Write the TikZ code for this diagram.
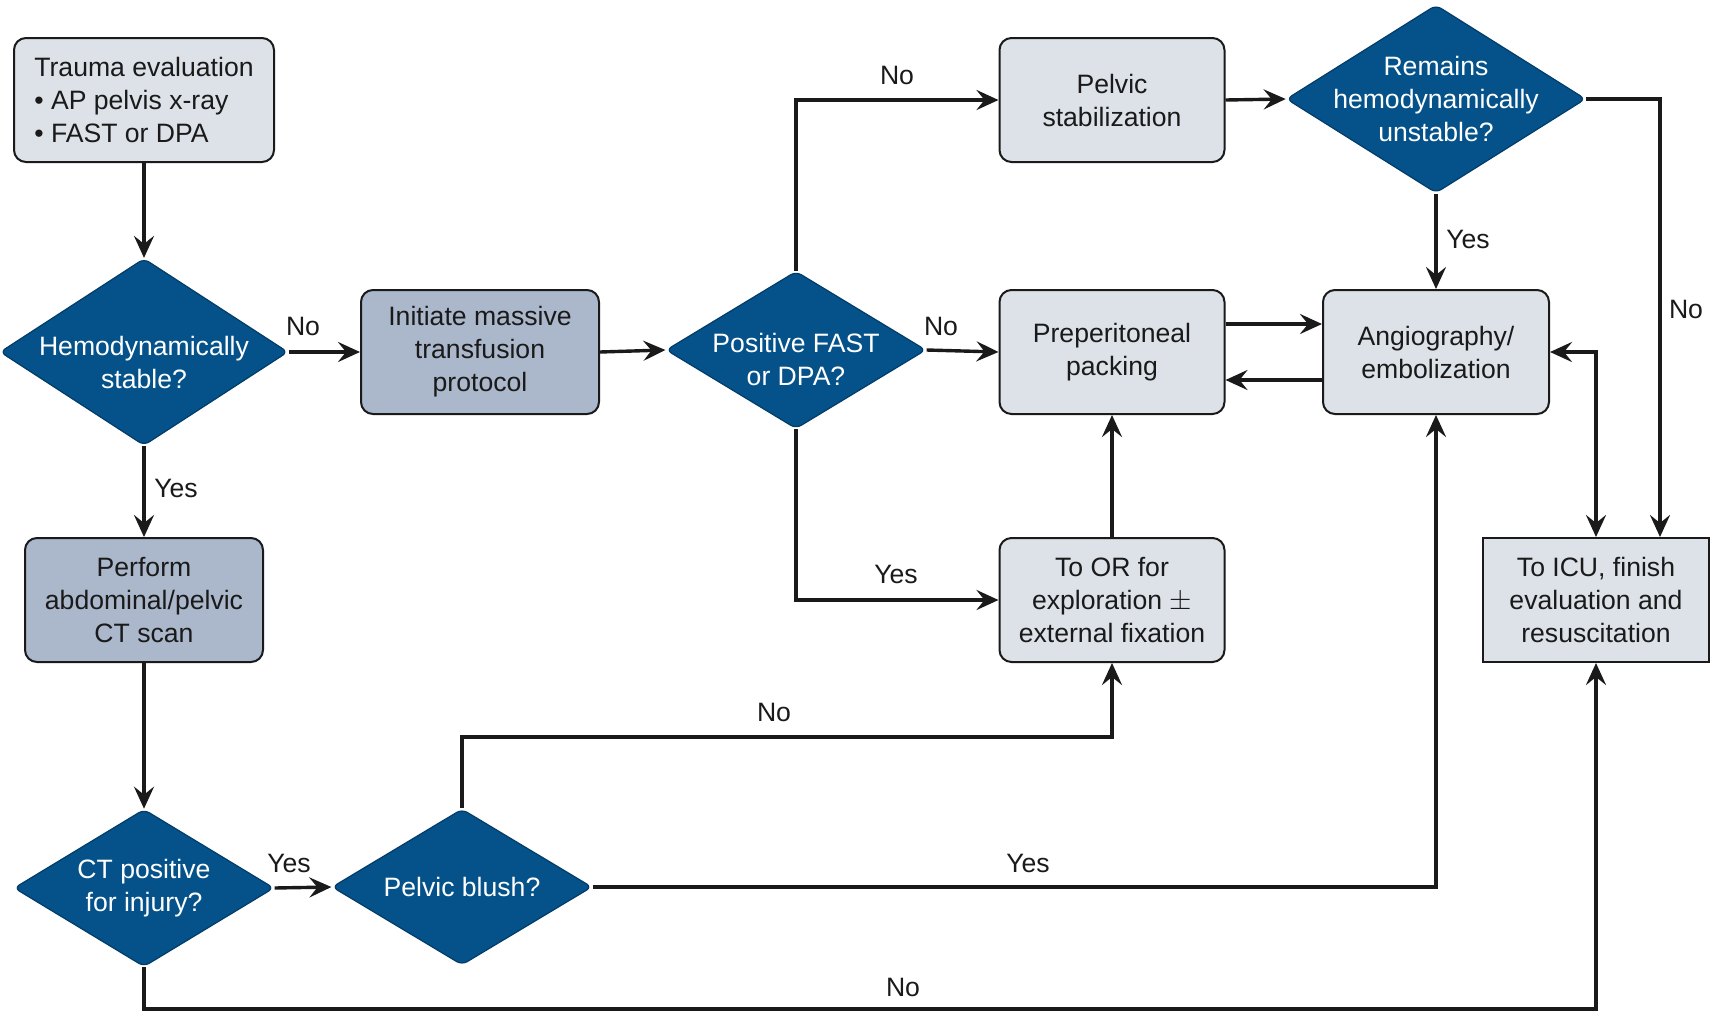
\documentclass[tikz,border=0pt]{standalone}
\usepackage{fontspec}
\setmainfont{Liberation Sans}
\usetikzlibrary{shapes.geometric,arrows.meta}
\definecolor{dblue}{RGB}{4,82,137}
\definecolor{dedge}{RGB}{2,60,105}
\definecolor{lbox}{RGB}{221,225,232}
\definecolor{dbox}{RGB}{171,183,202}
\definecolor{ink}{RGB}{26,26,26}
\tikzset{
  every node/.style={font=\fontsize{13.3}{16.5}\selectfont},
  box/.style={draw=ink, line width=1pt, rounded corners=6pt, fill=lbox, align=center, text=ink, inner sep=0pt, minimum height=62pt},
  dbx/.style={box, fill=dbox},
  dia/.style={diamond, draw=dedge, line width=0.6pt, fill=dblue, rounded corners=3pt, inner sep=0pt},
  dtext/.style={text=white, align=center, inner sep=0pt},
  conn/.style={draw=ink, line width=1.7pt, -{Stealth[length=11pt,width=10pt,inset=4pt]}},
  conn2/.style={draw=ink, line width=1.7pt, {Stealth[length=11pt,width=10pt,inset=4pt]}-{Stealth[length=11pt,width=10pt,inset=4pt]}},
  lbl/.style={text=ink, inner sep=0pt},
}
\begin{document}
\begin{tikzpicture}[x=0.5pt,y=-0.5pt]
\useasboundingbox (0,0) rectangle (1720,1034);
\fill[white] (0,0) rectangle (1720,1034);

% nodes
\node[box, minimum width=130pt, align=left] (tr) at (144,100) {Trauma evaluation\\\textbullet\ AP pelvis x-ray\\\textbullet\ FAST or DPA};
\node[dia, minimum width=144pt, minimum height=93.5pt, label={[dtext, yshift=-5pt]center:Hemodynamically\\stable?}] (hs) at (144,352) {};
\node[dbx, minimum width=119pt] (imt) at (480,352) {Initiate massive\\transfusion\\protocol};
\node[dia, minimum width=130pt, minimum height=78.7pt, label={[dtext, yshift=-4.5pt]center:Positive FAST\\or DPA?}] (fast) at (796,350) {};
\node[box, minimum width=112.5pt] (ps) at (1112,100) {Pelvic\\stabilization};
\node[dia, minimum width=149.7pt, minimum height=94pt, label={[dtext]center:Remains\\hemodynamically\\unstable?}] (rem) at (1436,99) {};
\node[box, minimum width=112.5pt] (pp) at (1112,352) {Preperitoneal\\packing};
\node[box, minimum width=113pt] (ang) at (1436,352) {Angiography/\\embolization};
\node[box, minimum width=112.5pt] (or) at (1112,600) {To OR for\\exploration $\pm$\\external fixation};
\node[box, sharp corners, minimum width=113pt] (icu) at (1596,600) {To ICU, finish\\evaluation and\\resuscitation};
\node[dbx, minimum width=119pt] (ct) at (144,600) {Perform\\abdominal/pelvic\\CT scan};
\node[dia, minimum width=130pt, minimum height=78.7pt, label={[dtext]center:CT positive\\for injury?}] (ctp) at (144,888) {};
\node[dia, minimum width=130pt, minimum height=78pt, label={[dtext]center:Pelvic blush?}] (pb) at (462,887) {};

\coordinate (pbup) at (462,737);
\coordinate (ctpd) at (144,1009);

% connectors
\draw[conn] (tr.south) -- (hs.north);
\draw[conn] (hs.east) -- (imt.west);
\draw[conn] (imt.east) -- (fast.west);
\draw[conn] (fast.north) |- (ps.west);
\draw[conn] (fast.east) -- (pp.west);
\draw[conn] (fast.south) |- (or.west);
\draw[conn] (ps.east) -- (rem.west);
\draw[conn] (rem.south) -- (ang.north);
\draw[conn] (rem.east) -| ([xshift=32pt]icu.north);
\draw[conn] ([yshift=14pt]pp.east) -- ([yshift=14pt]ang.west);
\draw[conn] ([yshift=-14pt]ang.west) -- ([yshift=-14pt]pp.east);
\draw[conn2] (ang.east) -| (icu.north);
\draw[conn] (or.north) -- (pp.south);
\draw[conn] (hs.south) -- (ct.north);
\draw[conn] (ct.south) -- (ctp.north);
\draw[conn] (ctp.east) -- (pb.west);
\draw[conn] (pb.north) -- (pbup) -| (or.south);
\draw[conn] (pb.east) -| (ang.south);
\draw[conn] (ctp.south) -- (ctpd) -| (icu.south);

% labels
\node[lbl] (l1) at (303,326) {No};
\node[lbl] (l2) at (897,75) {No};
\node[lbl] (l3) at (941,326) {No};
\node[lbl] (l4) at (896,574) {Yes};
\node[lbl] (l5) at (1468,239) {Yes};
\node[lbl] (l6) at (1686,309) {No};
\node[lbl] (l7) at (176,488) {Yes};
\node[lbl] (l8) at (289,863) {Yes};
\node[lbl] (l9) at (774,712) {No};
\node[lbl] (l10) at (1028,863) {Yes};
\node[lbl] (l11) at (903,987) {No};
\end{tikzpicture}
\end{document}
